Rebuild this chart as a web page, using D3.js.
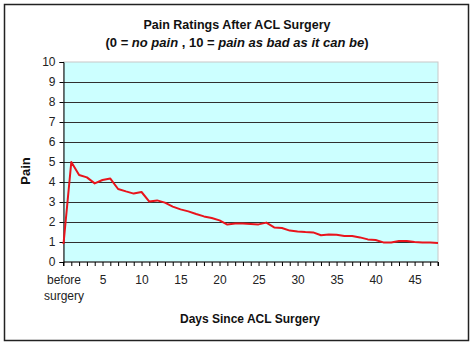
<!DOCTYPE html>
<html><head><meta charset="utf-8">
<script src="https://cdn.jsdelivr.net/npm/d3@7"></script>
<style>
body{margin:0;background:#fff;}
svg{display:block;font-family:"Liberation Sans",Arial,sans-serif;}
</style></head>
<body><svg id="c" width="474" height="346"></svg>
<script>
const categories = ["before surgery"].concat(d3.range(1, 49).map(String));
const painValues = [0.9, 5.0, 4.35, 4.23, 3.93, 4.1, 4.17, 3.65, 3.53, 3.42, 3.5, 3.02, 3.08,
  2.97, 2.77, 2.63, 2.53, 2.4, 2.28, 2.2, 2.08, 1.87, 1.92, 1.92, 1.9, 1.88, 1.97, 1.73, 1.7,
  1.57, 1.53, 1.5, 1.48, 1.34, 1.37, 1.36, 1.3, 1.3, 1.23, 1.13, 1.1, 0.98, 0.98, 1.05, 1.05,
  1.0, 0.97, 0.97, 0.95];
const yTicks = [0,1,2,3,4,5,6,7,8,9,10];
const xLabelEvery = 5;

const svg = d3.select("#c");
const m = {left: 63.5, right: 438, top: 62, bottom: 262};

// outer frame
svg.append("rect").attr("x",4.5).attr("y",4.5).attr("width",464).attr("height",336)
  .attr("fill","#fff").attr("stroke","#222").attr("stroke-width",1.5);

const x = d3.scalePoint().domain(categories).range([m.left, m.right]);
const y = d3.scaleLinear().domain([0,10]).range([m.bottom, m.top]);

// plot background
svg.append("rect").attr("x",m.left).attr("y",m.top).attr("width",m.right-m.left).attr("height",m.bottom-m.top)
  .attr("fill","#ccffff").attr("stroke","#c8c8c8").attr("stroke-width",1);

// gridlines
svg.append("g").selectAll("line").data(yTicks.filter(d=>d>0 && d<10)).join("line")
  .attr("x1",m.left).attr("x2",m.right).attr("y1",d=>Math.round(y(d))+0.5).attr("y2",d=>Math.round(y(d))+0.5)
  .attr("stroke","#303030").attr("stroke-width",1);

// y axis
const yAxis = d3.axisLeft(y).tickValues(yTicks).tickSize(4).tickPadding(4).tickFormat(d3.format("d"));
const gy = svg.append("g").attr("transform",`translate(${m.left},0)`).call(yAxis);
gy.select(".domain").attr("stroke","#000");
gy.selectAll(".tick line").attr("stroke","#000");
gy.selectAll("text").attr("font-size",12).attr("fill","#222").attr("font-family","Liberation Sans, Arial, sans-serif");

// x axis
const xAxis = d3.axisBottom(x).tickSize(4).tickPadding(9).tickFormat((d,i)=> i % xLabelEvery === 0 ? d : "");
const gx = svg.append("g").attr("transform",`translate(0,${m.bottom})`).call(xAxis);
gx.select(".domain").attr("stroke","#000").attr("d",`M${m.left},4V0H${m.right}V4`);
gx.selectAll(".tick line").attr("stroke","#000");
gx.selectAll("text").attr("font-size",12).attr("fill","#222").attr("font-family","Liberation Sans, Arial, sans-serif")
  .each(function(d){
    if(d === "before surgery"){
      const t = d3.select(this); t.text(null);
      t.append("tspan").attr("x",0).text("before");
      t.append("tspan").attr("x",0).attr("dy","1.35em").text("surgery");
    }
  });

// line
const line = d3.line().x((d,i)=>x(categories[i])).y(d=>y(d));
svg.append("path").datum(painValues).attr("d",line).attr("fill","none")
  .attr("stroke","#e8141c").attr("stroke-width",2).attr("stroke-linejoin","round");

// titles
svg.append("text").attr("x",237).attr("y",29).attr("text-anchor","middle").attr("font-weight","bold")
  .attr("font-size",12.5).attr("fill","#111").text("Pain Ratings After ACL Surgery");
const sub = svg.append("text").attr("x",237).attr("y",47).attr("text-anchor","middle").attr("font-weight","bold")
  .attr("font-size",13).attr("fill","#111");
sub.append("tspan").text("(0 = ");
sub.append("tspan").attr("font-style","italic").text("no pain");
sub.append("tspan").text(" , 10 = ");
sub.append("tspan").attr("font-style","italic").text("pain as bad as it can be");
sub.append("tspan").text(")");

svg.append("text").attr("transform","translate(30,171) rotate(-90)").attr("text-anchor","middle")
  .attr("font-weight","bold").attr("font-size",13).attr("fill","#111").text("Pain");
svg.append("text").attr("x",250).attr("y",323).attr("text-anchor","middle").attr("font-weight","bold")
  .attr("font-size",12).attr("fill","#111").text("Days Since ACL Surgery");
</script></body></html>
